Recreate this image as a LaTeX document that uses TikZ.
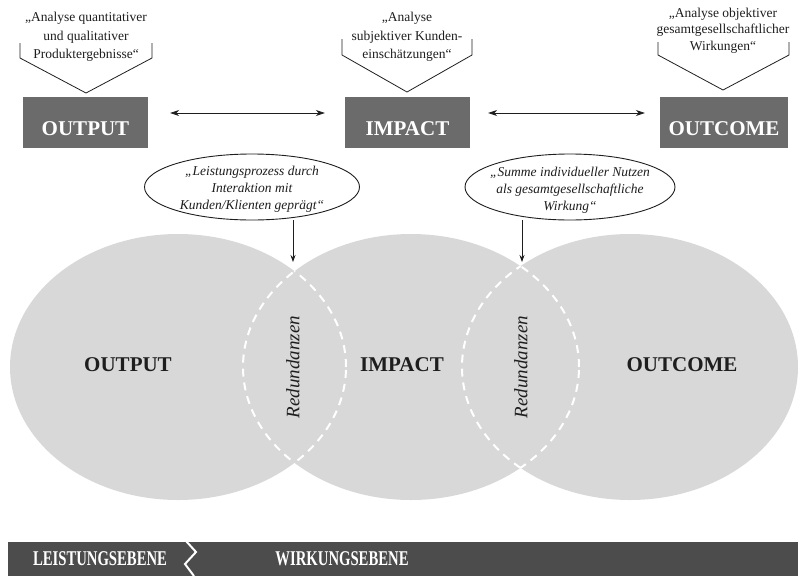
\documentclass[tikz,border=0pt]{standalone}
\usepackage{fontspec}
\setmainfont{Liberation Serif}
\usetikzlibrary{shapes.geometric,arrows.meta}
\definecolor{boxgrey}{HTML}{6B6B6B}
\definecolor{bandgrey}{HTML}{4C4C4C}
\definecolor{circgrey}{HTML}{D8D8D8}
\definecolor{inkgrey}{HTML}{1E1E1E}
\begin{document}
\begin{tikzpicture}[x=1pt,y=-1pt,
  topbox/.style={draw=none,fill=boxgrey,text=white,font=\fontsize{21}{24}\selectfont\bfseries,
    minimum width=125pt,minimum height=51pt,inner sep=0pt,text height=26pt,text depth=0pt},
  quotetext/.style={align=center,font=\fontsize{13.5}{18.5}\selectfont,text=inkgrey,inner sep=0pt},
  bracket/.style={draw=inkgrey,line width=0.8pt,line join=miter},
  oval/.style={ellipse,draw=inkgrey,line width=0.9pt,fill=white,inner sep=0pt},
  ovaltext/.style={align=center,font=\fontsize{13.5}{17}\selectfont\itshape,text=inkgrey,inner sep=0pt},
  dblarrow/.style={{Stealth[length=9pt,width=6pt]}-{Stealth[length=9pt,width=6pt]},line width=0.8pt,draw=inkgrey},
  downarrow/.style={-{Stealth[length=7pt,width=5pt]},line width=0.8pt,draw=inkgrey},
  circ/.style={fill=circgrey},
  lens/.style={draw=white,line width=2pt,dash pattern=on 8pt off 6pt},
  circlabel/.style={font=\fontsize{21}{24}\selectfont\bfseries,text=inkgrey,inner sep=0pt},
  redlabel/.style={font=\fontsize{19}{22}\selectfont\itshape,text=inkgrey,rotate=90,inner sep=0pt},
  bandtext/.style={font=\fontsize{21}{24}\selectfont\bfseries,text=white,inner sep=0pt}
]
\useasboundingbox (0,0) rectangle (798,576);

% ---------- top boxes ----------
\node[topbox] (o1) at (85.5,122) {OUTPUT};
\node[topbox] (i1) at (407.5,122) {IMPACT};
\node[topbox,minimum width=128pt] (c1) at (724,122) {OUTCOME};

% ---------- brackets + texts ----------
\draw[bracket] (20,43) -- (20,58) -- (86,93) -- (152,58) -- (152,43);
\node[quotetext] (q1) at (86,37) {„Analyse quantitativer\\und qualitativer\\Produktergebnisse“};

\draw[bracket] (342,39) -- (342,55) -- (407,92) -- (472,55) -- (472,39);
\node[quotetext] (q2) at (407,37) {„Analyse\\subjektiver Kunden-\\einschätzungen“};

\draw[bracket] (658,42) -- (658,55) -- (723,90) -- (789,55) -- (789,42);
\node[quotetext,font=\fontsize{13.5}{16.5}\selectfont] (q3) at (723,30.5) {„Analyse objektiver\\gesamtgesellschaftlicher\\Wirkungen“};

% ---------- double arrows ----------
\draw[dblarrow] ([xshift=22pt,yshift=9pt]o1.east) -- ([xshift=-20pt,yshift=9pt]i1.west);
\draw[dblarrow] ([xshift=18pt,yshift=9pt]i1.east) -- ([xshift=-15pt,yshift=9pt]c1.west);

% ---------- big circles ----------
\fill[circ] (178,367) ellipse [x radius=168pt,y radius=133pt];
\fill[circ] (411,367) ellipse [x radius=168pt,y radius=133pt];
\fill[circ] (630,367) ellipse [x radius=168pt,y radius=133pt];

\begin{scope}
  \clip (411,367) ellipse [x radius=168pt,y radius=133pt];
  \draw[lens] (178,367) ellipse [x radius=168pt,y radius=133pt];
\end{scope}
\begin{scope}
  \clip (178,367) ellipse [x radius=168pt,y radius=133pt];
  \draw[lens] (411,367) ellipse [x radius=168pt,y radius=133pt];
\end{scope}
\begin{scope}
  \clip (630,367) ellipse [x radius=168pt,y radius=133pt];
  \draw[lens] (411,367) ellipse [x radius=168pt,y radius=133pt];
\end{scope}
\begin{scope}
  \clip (411,367) ellipse [x radius=168pt,y radius=133pt];
  \draw[lens] (630,367) ellipse [x radius=168pt,y radius=133pt];
\end{scope}

\node[circlabel] (o2) at (128,365) {OUTPUT};
\node[circlabel] (i2) at (402,365) {IMPACT};
\node[circlabel] (c2) at (682,365) {OUTCOME};
\node[redlabel] (r1) at (293,367) {Redundanzen};
\node[redlabel] (r2) at (521,367) {Redundanzen};

% ---------- ovals ----------
\node[oval,minimum width=215pt,minimum height=66pt] (e1) at (252,187) {};
\node[ovaltext] (t1) at (252,189) {„Leistungsprozess durch\\Interaktion mit\\Kunden/Klienten geprägt“};
\node[oval,minimum width=210pt,minimum height=66pt] (e2) at (570,187) {};
\node[ovaltext] (t2) at (570,190) {„Summe individueller Nutzen\\als gesamtgesellschaftliche\\Wirkung“};

\coordinate (a1) at (293,262);
\coordinate (a2) at (522,262);
\draw[downarrow] (e1.south -| a1) -- (a1);
\draw[downarrow] (e2.south -| a2) -- (a2);

% ---------- bottom band ----------
\fill[bandgrey] (8,542) rectangle (798,576);
\draw[white,line width=2pt,line join=miter] (186,541) -- (196,552) -- (185,564) -- (194,576);
\node[bandtext] (b1) at (100,559) {\scalebox{0.7}[1]{LEISTUNGSEBENE}};
\node[bandtext] (b2) at (342,559) {\scalebox{0.7}[1]{WIRKUNGSEBENE}};
\end{tikzpicture}
\end{document}
